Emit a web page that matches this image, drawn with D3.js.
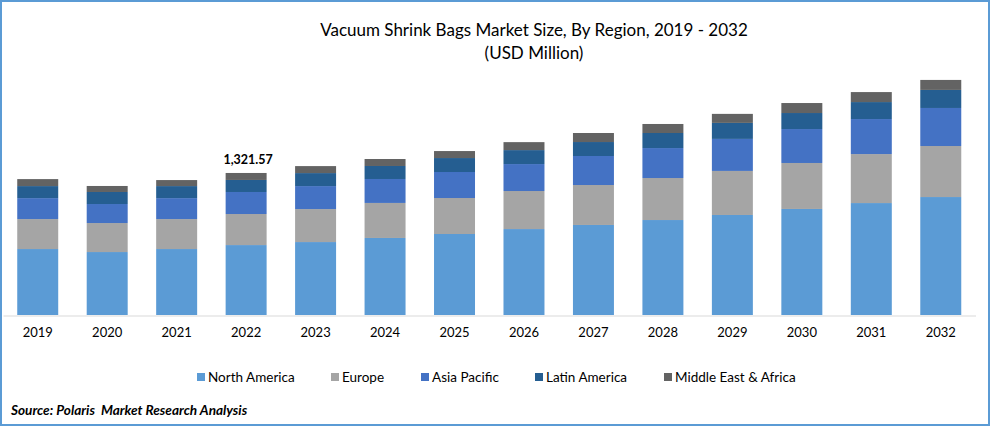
<!DOCTYPE html>
<html><head><meta charset="utf-8">
<script src="https://cdnjs.cloudflare.com/ajax/libs/d3/7.8.5/d3.min.js"></script>
<style>html,body{margin:0;padding:0;background:#fff}svg{display:block}text{font-family:Lato,"Open Sans",sans-serif;fill:#000}</style>
</head><body><svg id="c" width="990" height="426"></svg>
<script>
const years=["2019","2020","2021","2022","2023","2024","2025","2026","2027","2028","2029","2030","2031","2032"];
const seriesNames=["North America","Europe","Asia Pacific","Latin America","Middle East & Africa"];
const colors=["#5b9bd5","#a5a5a5","#4472c4","#255e91","#636363"];
const northAmerica=[614,586,614,651,679,717,754,800,838,884,931,987,1042,1098];
const europe=[279,270,279,289,307,326,335,354,372,391,410,428,456,475];
const asiaPacific=[195,177,195,205,214,223,242,251,270,279,298,316,326,354];
const latinAmerica=[112,112,112,112,121,121,130,130,130,140,149,149,158,168];
const middleEastAfrica=[65,56,56,65,65,65,65,74,84,84,84,93,93,93];
const annotationYear="2022", annotationText="1,321.57";
const titleLines=["Vacuum Shrink Bags Market Size, By Region, 2019 - 2032","(USD Million)"];
const sourceText="Source: Polaris  Market Research Analysis";

const allSeries=[northAmerica,europe,asiaPacific,latinAmerica,middleEastAfrica];
const rows=years.map((y,i)=>{const r={year:y};seriesNames.forEach((n,k)=>r[n]=allSeries[k][i]);return r;});
const svg=d3.select("#c");
const x=d3.scaleBand().domain(years).range([3,975.5]).paddingInner(0.41).paddingOuter(0.205);
const y=d3.scaleLinear().domain([0,2327]).range([315,65]);
const stack=d3.stack().keys(seriesNames)(rows);

svg.append("rect").attr("x",1).attr("y",1).attr("width",988).attr("height",424)
  .attr("fill","#fff").attr("stroke","#5b9bd5").attr("stroke-width",2);

svg.append("g").selectAll("g").data(stack).join("g").attr("fill",(d,i)=>colors[i])
  .selectAll("rect").data(d=>d).join("rect")
  .attr("x",d=>x(d.data.year)).attr("width",x.bandwidth())
  .attr("y",d=>y(d[1])).attr("height",d=>y(d[0])-y(d[1]));

const ax=svg.append("g").attr("transform","translate(0,315.5)").call(d3.axisBottom(x).tickSize(0).tickPadding(12.5));
ax.select(".domain").attr("stroke","#d9d9d9").attr("stroke-width",1.2);
ax.selectAll("text").attr("font-size",13).attr("font-family","Lato").attr("fill","#000");

svg.selectAll(".t").data(titleLines).join("text").attr("class","t")
  .attr("x",534).attr("y",(d,i)=>36+i*23).attr("text-anchor","middle").attr("font-size",17).text(d=>d);

const annTotal=d3.sum(allSeries,s=>s[years.indexOf(annotationYear)]);
svg.append("text").attr("x",x(annotationYear)+x.bandwidth()/2+2).attr("y",y(annTotal)-9)
  .attr("text-anchor","middle").attr("font-size",12.5).attr("font-weight",700).text(annotationText);

const legendX=[197,331,421,535,664];
const lg=svg.append("g").selectAll("g").data(seriesNames).join("g")
  .attr("transform",(d,i)=>`translate(${legendX[i]},373)`);
lg.append("rect").attr("width",8).attr("height",8).attr("fill",(d,i)=>colors[i]);
lg.append("text").attr("x",11).attr("y",8.5).attr("font-size",13.5).text(d=>d);

svg.append("text").attr("x",11).attr("y",415).attr("font-size",13.6).attr("font-weight",700)
  .attr("font-style","italic").style("white-space","pre").text(sourceText);
</script></body></html>
